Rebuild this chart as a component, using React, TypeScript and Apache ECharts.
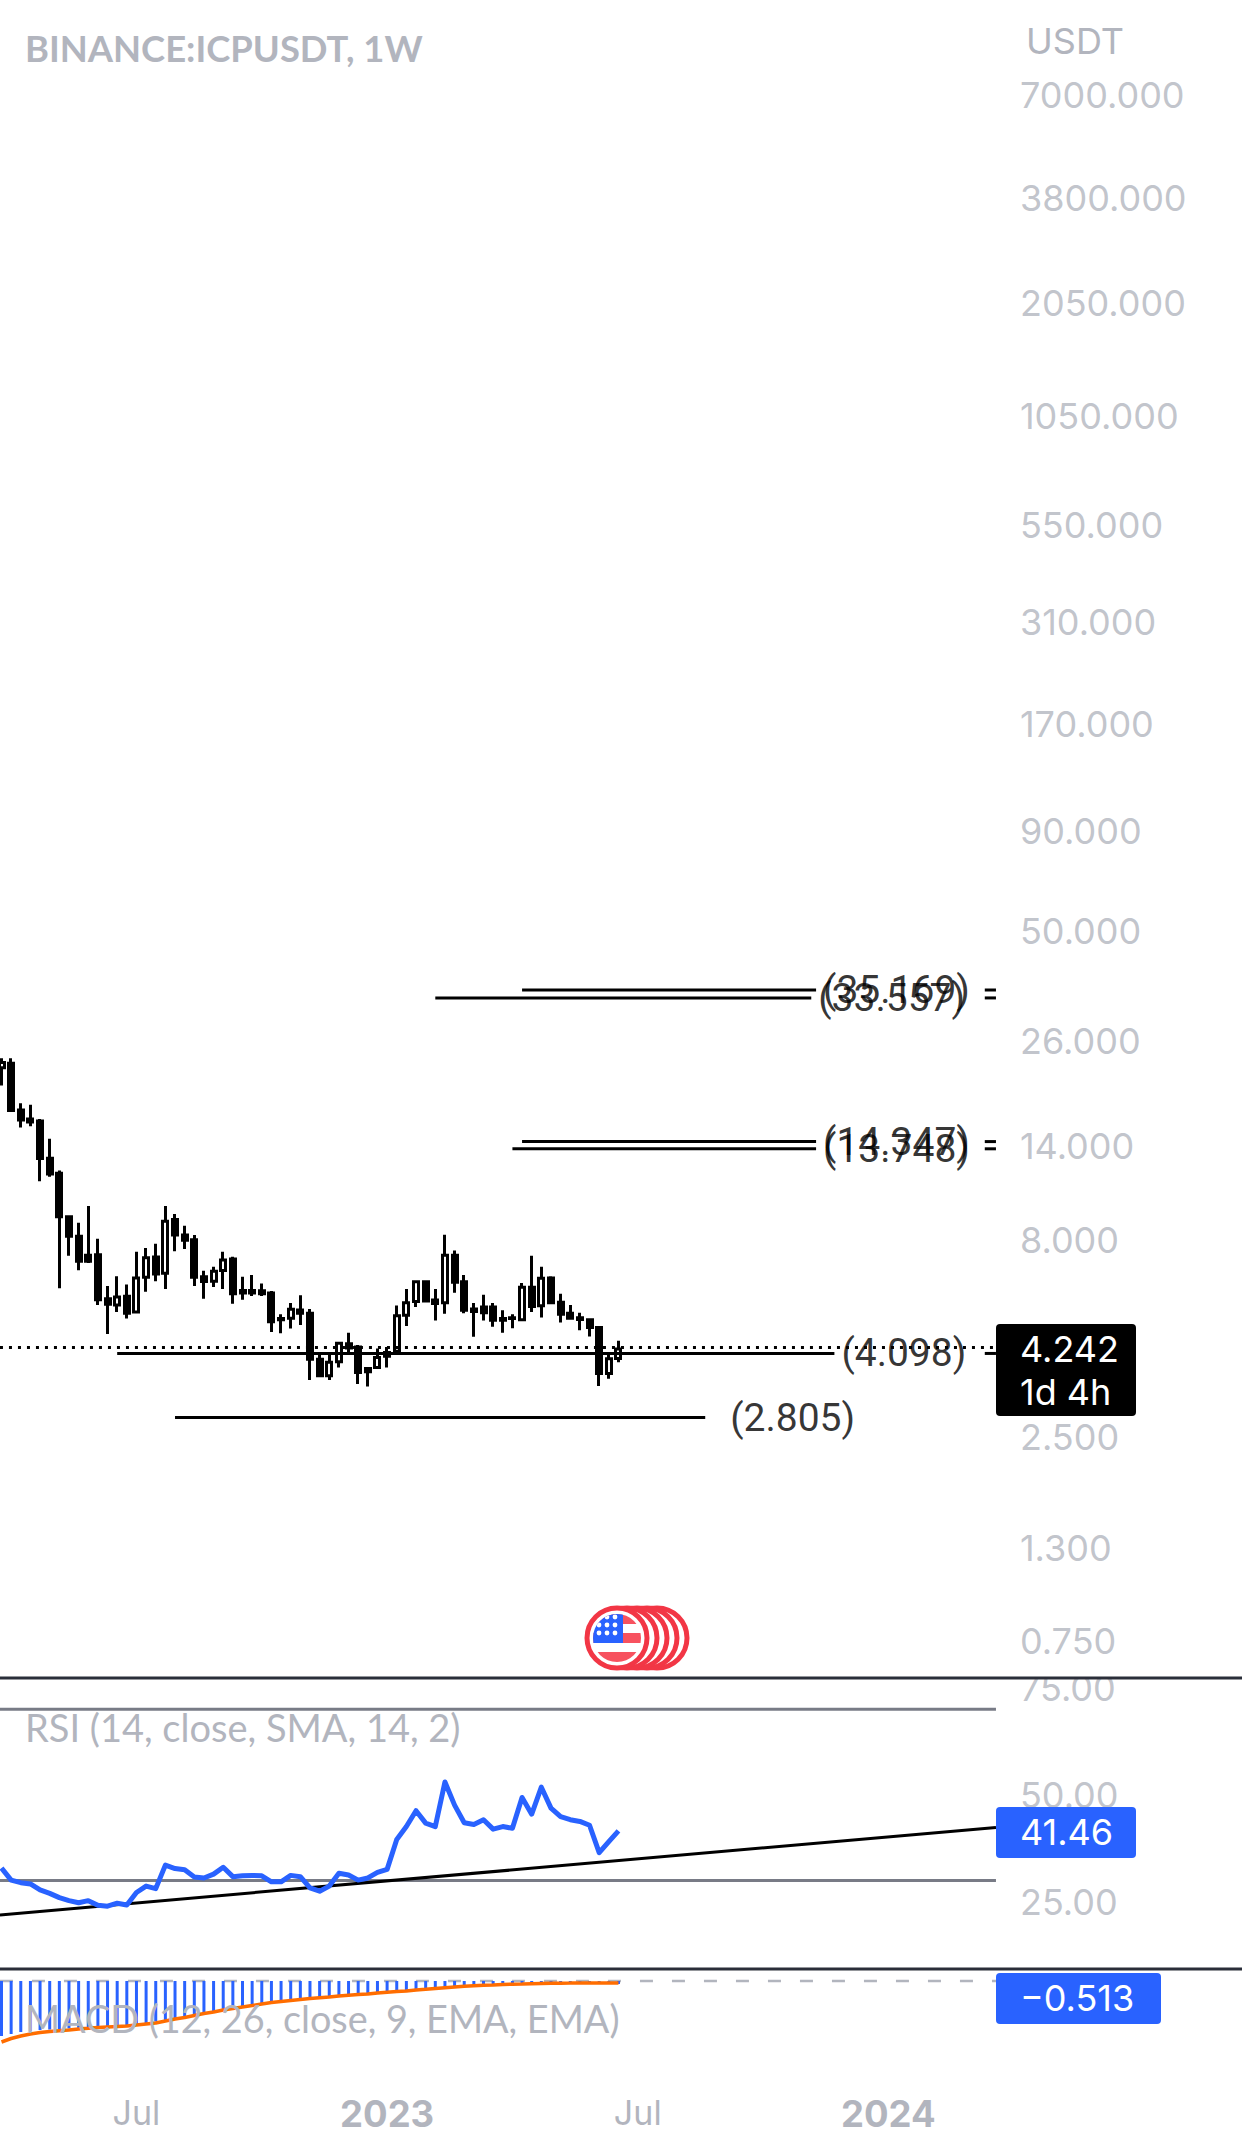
import React, { useEffect, useRef } from "react";
import * as echarts from "echarts";

const weekCount = 130;
const firstWeek = Date.UTC(2022, 3, 4);
const categories: string[] = Array.from({ length: weekCount }, (_, i) =>
  new Date(firstWeek + i * 7 * 86400000).toISOString().slice(0, 10)
);
const timeTickLabels: Record<number, string> = { 14: "Jul", 40: "{y|2023}", 66: "Jul", 92: "{y|2024}" };

const opens = [22.2,22.8,17.3,16.4,16.2,13.0,11.9,9.2,8.2,7.33,7.35,5.66,5.46,5.75,5.24,6.43,7.25,6.59,9.05,8.26,8.03,6.45,6.28,6.69,7.16,5.95,5.95,5.94,5.86,5.04,5.05,5.3,
  5.2,3.96,3.59,3.90,4.34,4.26,3.75,3.77,4.12,4.15,5.14,5.57,6.26,5.62,5.53,7.32,6.26,5.33,5.39,5.39,5.04,5.06,5.0,6.06,5.43,6.4,5.55,5.2,5.06,5.0,4.78,3.64,3.98];
const closes = [22.9,17.25,16.3,16.1,12.98,11.85,9.2,8.2,7.07,7.07,5.63,5.48,5.72,5.2,6.4,7.22,6.56,8.95,8.26,8.0,6.43,6.27,6.66,7.12,5.83,5.86,5.86,5.83,4.94,5.0,5.32,5.2,
  3.96,3.59,3.89,4.35,4.23,3.66,3.68,4.0,4.03,5.12,5.53,6.26,5.59,5.51,7.32,6.24,5.29,5.25,5.21,4.99,4.99,5.04,6.06,5.41,6.39,5.53,5.17,5.05,5.01,4.78,3.64,3.97,4.21];
const highs = [23.5,23.5,18.0,17.85,16.4,14.6,12.1,9.2,8.88,9.8,8.08,6.11,6.47,6.16,7.48,7.65,7.84,9.8,9.35,8.72,8.26,6.68,6.84,7.48,7.26,6.45,6.52,6.2,5.93,5.17,5.52,5.78,
  5.33,4.07,4.07,4.39,4.63,4.31,3.77,4.22,4.26,5.44,6.0,6.3,6.26,6.0,8.27,7.53,6.52,5.52,5.8,5.52,5.29,5.17,6.22,7.3,6.84,6.47,5.83,5.46,5.21,5.03,4.8,4.09,4.42];
const lows = [20.0,17.2,15.6,15.7,11.35,11.66,6.03,7.3,6.7,7.0,5.46,4.6,5.24,5.04,5.24,5.9,6.28,6.0,7.5,7.6,6.11,5.66,6.07,6.0,5.5,5.63,5.76,5.76,4.65,4.62,4.75,4.85,
  3.50,3.59,3.50,3.77,4.11,3.42,3.37,3.75,3.77,4.12,4.82,5.39,5.57,4.98,5.18,5.87,5.2,4.52,4.98,4.8,4.63,4.76,4.99,5.24,5.07,5.52,4.92,5.01,4.7,4.53,3.38,3.53,3.89];

const rsiValues = [32.9,30.1,29.5,29.2,27.8,27.0,26.0,25.3,24.8,25.3,24.2,24.0,24.7,24.3,27.2,28.7,28.1,33.6,32.8,32.5,30.8,30.6,31.5,33.1,30.9,31.1,31.2,31.1,29.7,29.7,31.2,30.9,28.3,27.5,28.7,31.7,31.3,30.1,30.6,31.9,32.6,39.6,42.6,46.3,43.4,42.6,53.0,47.6,43.5,43.1,44.2,42.0,42.6,42.2,49.4,45.5,51.8,46.9,44.9,44.2,43.8,42.9,36.5,39.1,41.6];

const macdBars = [-13.75,-13.25,-12.75,-12.5,-12.25,-12.13,-12,-11.88,-11.75,-11.63,-11.5,-11.38,-11.25,-11.13,-10.88,-10.5,-10.13,-9.75,-9.38,-9,-8.5,-8,-7.63,-7.13,-6.75,-6.38,-6,-5.63,-5.25,-5,-4.75,-4.5,-4.25,-4,-3.88,-3.63,-3.38,-3.25,-3.13,-2.88,-2.63,-2.5,-2.38,-2.13,-2,-1.75,-1.63,-1.38,-1.25,-1.13,-1,-0.88,-0.88,-0.75,-0.75,-0.63,-0.63,-0.63,-0.5,-0.5,-0.5,-0.5,-0.75,-0.75,-0.75];
const macdSignal = [-15.25,-14.38,-13.75,-13.25,-12.88,-12.63,-12.43,-12.25,-12,-11.83,-11.63,-11.5,-11.38,-11.25,-11,-10.75,-10.5,-10,-9.5,-9.13,-8.63,-8.13,-7.75,-7.25,-6.88,-6.5,-6.13,-5.75,-5.38,-5.13,-4.88,-4.63,-4.38,-4.18,-4,-3.75,-3.55,-3.38,-3.25,-3,-2.8,-2.63,-2.5,-2.25,-2.08,-1.88,-1.68,-1.5,-1.33,-1.2,-1.08,-1,-0.88,-0.8,-0.75,-0.68,-0.63,-0.58,-0.55,-0.53,-0.5,-0.5,-0.5,-0.5,-0.51];

const priceTicks = [7000,3800,2050,1050,550,310,170,90,50,26,14,8,2.5,1.3,0.75];
const rsiTicks = [75,50,25];
const rsiBands = [70,30];
const rsiTrend = [[-0.16,21.96],[103.16,42.4]];
const levels = [
  { value: 35.169, text: "(35.169)", from: 54, to: 84.5, tail: true },
  { value: 33.557, text: "(33.557)", from: 45, to: 84, tail: true },
  { value: 14.347, text: "(14.347)", from: 54, to: 84.5, tail: true },
  { value: 13.748, text: "(13.748)", from: 53, to: 84.5, tail: true },
  { value: 4.098, text: "(4.098)", from: 12, to: 86.4, tail: true },
  { value: 2.805, text: "(2.805)", from: 18, to: 73, tail: false },
];
const lastPrice = 4.242;

const GRAY = "#b2b5be";
const BLUE = "#2962ff";
const AXIS_FONT = "Inter";
const AXIS_SIZE = 36;
const TICK_X = 105.65;
const RIGHT_END = 103.16;
const TAIL_START = 102;

const flagSvg = (() => {
  const rings = [40, 30, 20, 10, 0]
    .map((o) => `<circle cx="${35 + o}" cy="35" r="30" fill="#fff" stroke="#f23645" stroke-width="5"/>`)
    .join("");
  const stars: string[] = [];
  for (const sy of [14, 22, 30]) for (const sx of [17, 25, 33]) {
    if (sy === 14 && sx === 17) continue;
    stars.push(`<circle cx="${sx}" cy="${sy}" r="2.4" fill="#fff"/>`);
  }
  return (
    `<svg xmlns="http://www.w3.org/2000/svg" width="110" height="70" viewBox="0 0 110 70">` +
    rings +
    `<clipPath id="c"><circle cx="35" cy="35" r="24"/></clipPath><g clip-path="url(#c)">` +
    `<rect x="0" y="0" width="70" height="70" fill="#fff"/>` +
    `<rect x="0" y="0" width="70" height="21" fill="#f7525f"/>` +
    `<rect x="0" y="30" width="70" height="10" fill="#f7525f"/>` +
    `<rect x="0" y="49" width="70" height="21" fill="#f7525f"/>` +
    `<rect x="0" y="0" width="41" height="40" fill="${BLUE}"/>` +
    stars.join("") +
    `</g></svg>`
  );
})();

function axisPair(gridIndex: number, showLabels: boolean) {
  return {
    type: "category", gridIndex, data: categories, show: showLabels,
    axisLine: { show: false }, axisTick: { show: false },
    axisLabel: {
      show: showLabels,
      interval: (i: number) => timeTickLabels[i] !== undefined,
      formatter: (_: string, i: number) => timeTickLabels[i] || "",
      color: GRAY, fontFamily: "Inter", fontSize: 34, margin: 10, hideOverlap: false,
      rich: { y: { color: GRAY, fontFamily: "Inter", fontSize: 36.5, fontWeight: "bold" } },
    },
  };
}
const valueX = (gridIndex: number) => ({ type: "value", gridIndex, min: -0.5, max: weekCount - 0.5, show: false });

function tickSeries(values: number[], xAxisIndex: number, yAxisIndex: number, fmt: (v: number) => string) {
  return {
    type: "scatter", xAxisIndex, yAxisIndex, symbolSize: 0, silent: true, clip: false, z: 1,
    data: values.map((v) => [TICK_X, v]),
    label: {
      show: true, position: "right", distance: 0, color: GRAY, fontFamily: AXIS_FONT, fontSize: AXIS_SIZE,
      formatter: (p: any) => fmt(p.value[1]),
    },
  };
}

function buildOption() {
  const series: any[] = [];
  series.push({
    type: "candlestick", xAxisIndex: 0, yAxisIndex: 0, barWidth: 5.5, z: 3,
    itemStyle: { color: "#ffffff", color0: "#000000", borderColor: "#000000", borderColor0: "#000000", borderWidth: 3 },
    data: opens.map((o, i) => [o, closes[i], lows[i], highs[i]]),
  });
  series.push({
    type: "line", xAxisIndex: 3, yAxisIndex: 0, symbol: "none", z: 4, silent: true,
    lineStyle: { color: "#000", width: 3, type: [3, 6] },
    data: [[-0.16, lastPrice], [RIGHT_END, lastPrice]],
  });
  for (const l of levels) {
    series.push({
      type: "line", xAxisIndex: 3, yAxisIndex: 0, symbol: "none", z: 4, silent: true,
      lineStyle: { color: "#000", width: 3 }, data: [[l.from, l.value], [l.to, l.value]],
    });
    if (l.tail) series.push({
      type: "line", xAxisIndex: 3, yAxisIndex: 0, symbol: "none", z: 4, silent: true,
      lineStyle: { color: "#000", width: 3 }, data: [[TAIL_START, l.value], [RIGHT_END, l.value]],
    });
    series.push({
      type: "scatter", xAxisIndex: 3, yAxisIndex: 0, symbolSize: 0, silent: true, z: 5,
      data: [[l.to, l.value]],
      label: { show: true, position: "right", distance: l.tail ? 7 : 25, color: "#000", fontFamily: "Roboto", fontSize: 39, formatter: l.text },
    });
  }
  series.push(tickSeries(priceTicks, 3, 0, (v) => v.toFixed(3)));
  series.push({
    type: "line", xAxisIndex: 4, yAxisIndex: 1, symbol: "none", z: 2, silent: true, data: [[-0.16, rsiBands[0]], [RIGHT_END, rsiBands[0]]],
    lineStyle: { color: "#787b86", width: 3 },
  });
  series.push({
    type: "line", xAxisIndex: 4, yAxisIndex: 1, symbol: "none", z: 2, silent: true, data: [[-0.16, rsiBands[1]], [RIGHT_END, rsiBands[1]]],
    lineStyle: { color: "#787b86", width: 3 },
  });
  series.push({
    type: "line", xAxisIndex: 4, yAxisIndex: 1, symbol: "none", z: 3, silent: true, data: rsiTrend,
    lineStyle: { color: "#000", width: 3 },
  });
  series.push({
    type: "line", xAxisIndex: 1, yAxisIndex: 1, symbol: "none", z: 4, data: rsiValues,
    lineStyle: { color: BLUE, width: 5, join: "round" },
  });
  series.push(tickSeries(rsiTicks, 4, 1, (v) => v.toFixed(2)));
  series.push({
    type: "line", xAxisIndex: 5, yAxisIndex: 2, symbol: "none", z: 2, silent: true, data: [[-0.16, 0], [RIGHT_END, 0]],
    lineStyle: { color: GRAY, width: 2.5, type: [13, 19] },
  });
  series.push({
    type: "bar", xAxisIndex: 2, yAxisIndex: 2, barWidth: 3, z: 3, data: macdBars,
    itemStyle: { color: BLUE },
  });
  series.push({
    type: "line", xAxisIndex: 2, yAxisIndex: 2, symbol: "none", z: 4, data: macdSignal,
    lineStyle: { color: "#ff6d00", width: 3.5 },
  });

  const box = (y: number, h: number, w: number, fill: string) => ({
    type: "rect", z: 100, shape: { x: 996, y, width: w, height: h, r: 4 }, style: { fill },
  });
  const txt = (x: number, y: number, text: string, fill: string, font: string, size: number, weight = "normal") => ({
    type: "text", z: 101, x, y,
    style: { text, fill, font: `${weight} ${size}px ${font}`, textVerticalAlign: "middle", verticalAlign: "middle" },
  });
  const rule = (y: number) => ({
    type: "line", z: 90, shape: { x1: 0, y1: y, x2: 1242, y2: y }, style: { stroke: "#2a2e39", lineWidth: 3 },
  });

  return {
    animation: false,
    backgroundColor: "#ffffff",
    grid: [
      { left: -3.32, top: 0, width: 1253.2, height: 1678, outerBoundsMode: "none" },
      { left: -3.32, top: 1678, width: 1253.2, height: 292, outerBoundsMode: "none" },
      { left: -3.32, top: 1970, width: 1253.2, height: 115, outerBoundsMode: "none" },
    ],
    xAxis: [axisPair(0, false), axisPair(1, false), axisPair(2, true), valueX(0), valueX(1), valueX(2)],
    yAxis: [
      { type: "log", gridIndex: 0, min: 0.601, max: 12280, show: false },
      { type: "value", gridIndex: 1, min: 9.1, max: 77.3, show: false },
      { type: "value", gridIndex: 2, min: -26, max: 2.75, show: false },
    ],
    series,
    graphic: [
      { type: "rect", z: 80, shape: { x: 1000, y: 1663, width: 242, height: 14 }, style: { fill: "#fff" } },
      rule(1678), rule(1969),
      { type: "image", z: 95, x: 582, y: 1603, style: { image: "data:image/svg+xml;utf8," + encodeURIComponent(flagSvg), width: 110, height: 70 } },
      txt(25, 48, "BINANCE:ICPUSDT, 1W", GRAY, "Lato", 36.4, "bold"),
      txt(1026, 41, "USDT", GRAY, AXIS_FONT, AXIS_SIZE),
      txt(25, 1727, "RSI (14, close, SMA, 14, 2)", GRAY, "Lato", 38),
      txt(25, 2018, "MACD (12, 26, close, 9, EMA, EMA)", GRAY, "Lato", 37.8),
      box(1324, 92, 140, "#000000"),
      txt(1020, 1349, "4.242", "#fff", AXIS_FONT, AXIS_SIZE),
      txt(1020, 1392, "1d 4h", "#fff", AXIS_FONT, AXIS_SIZE),
      box(1807, 51, 140, BLUE),
      txt(1020, 1832, "41.46", "#fff", AXIS_FONT, AXIS_SIZE),
      box(1973, 51, 165, BLUE),
      txt(1020, 1998, "\u22120.513", "#fff", AXIS_FONT, AXIS_SIZE),
    ],
  };
}

export default function App() {
  const ref = useRef<HTMLDivElement>(null);
  useEffect(() => {
    document.body.style.margin = "0";
    document.body.style.background = "#fff";
    const chart = echarts.init(ref.current!, undefined, { renderer: "svg" });
    chart.setOption(buildOption() as any);
    return () => chart.dispose();
  }, []);
  return <div ref={ref} style={{ position: "absolute", left: 0, top: 0, width: 1242, height: 2151 }} />;
}
